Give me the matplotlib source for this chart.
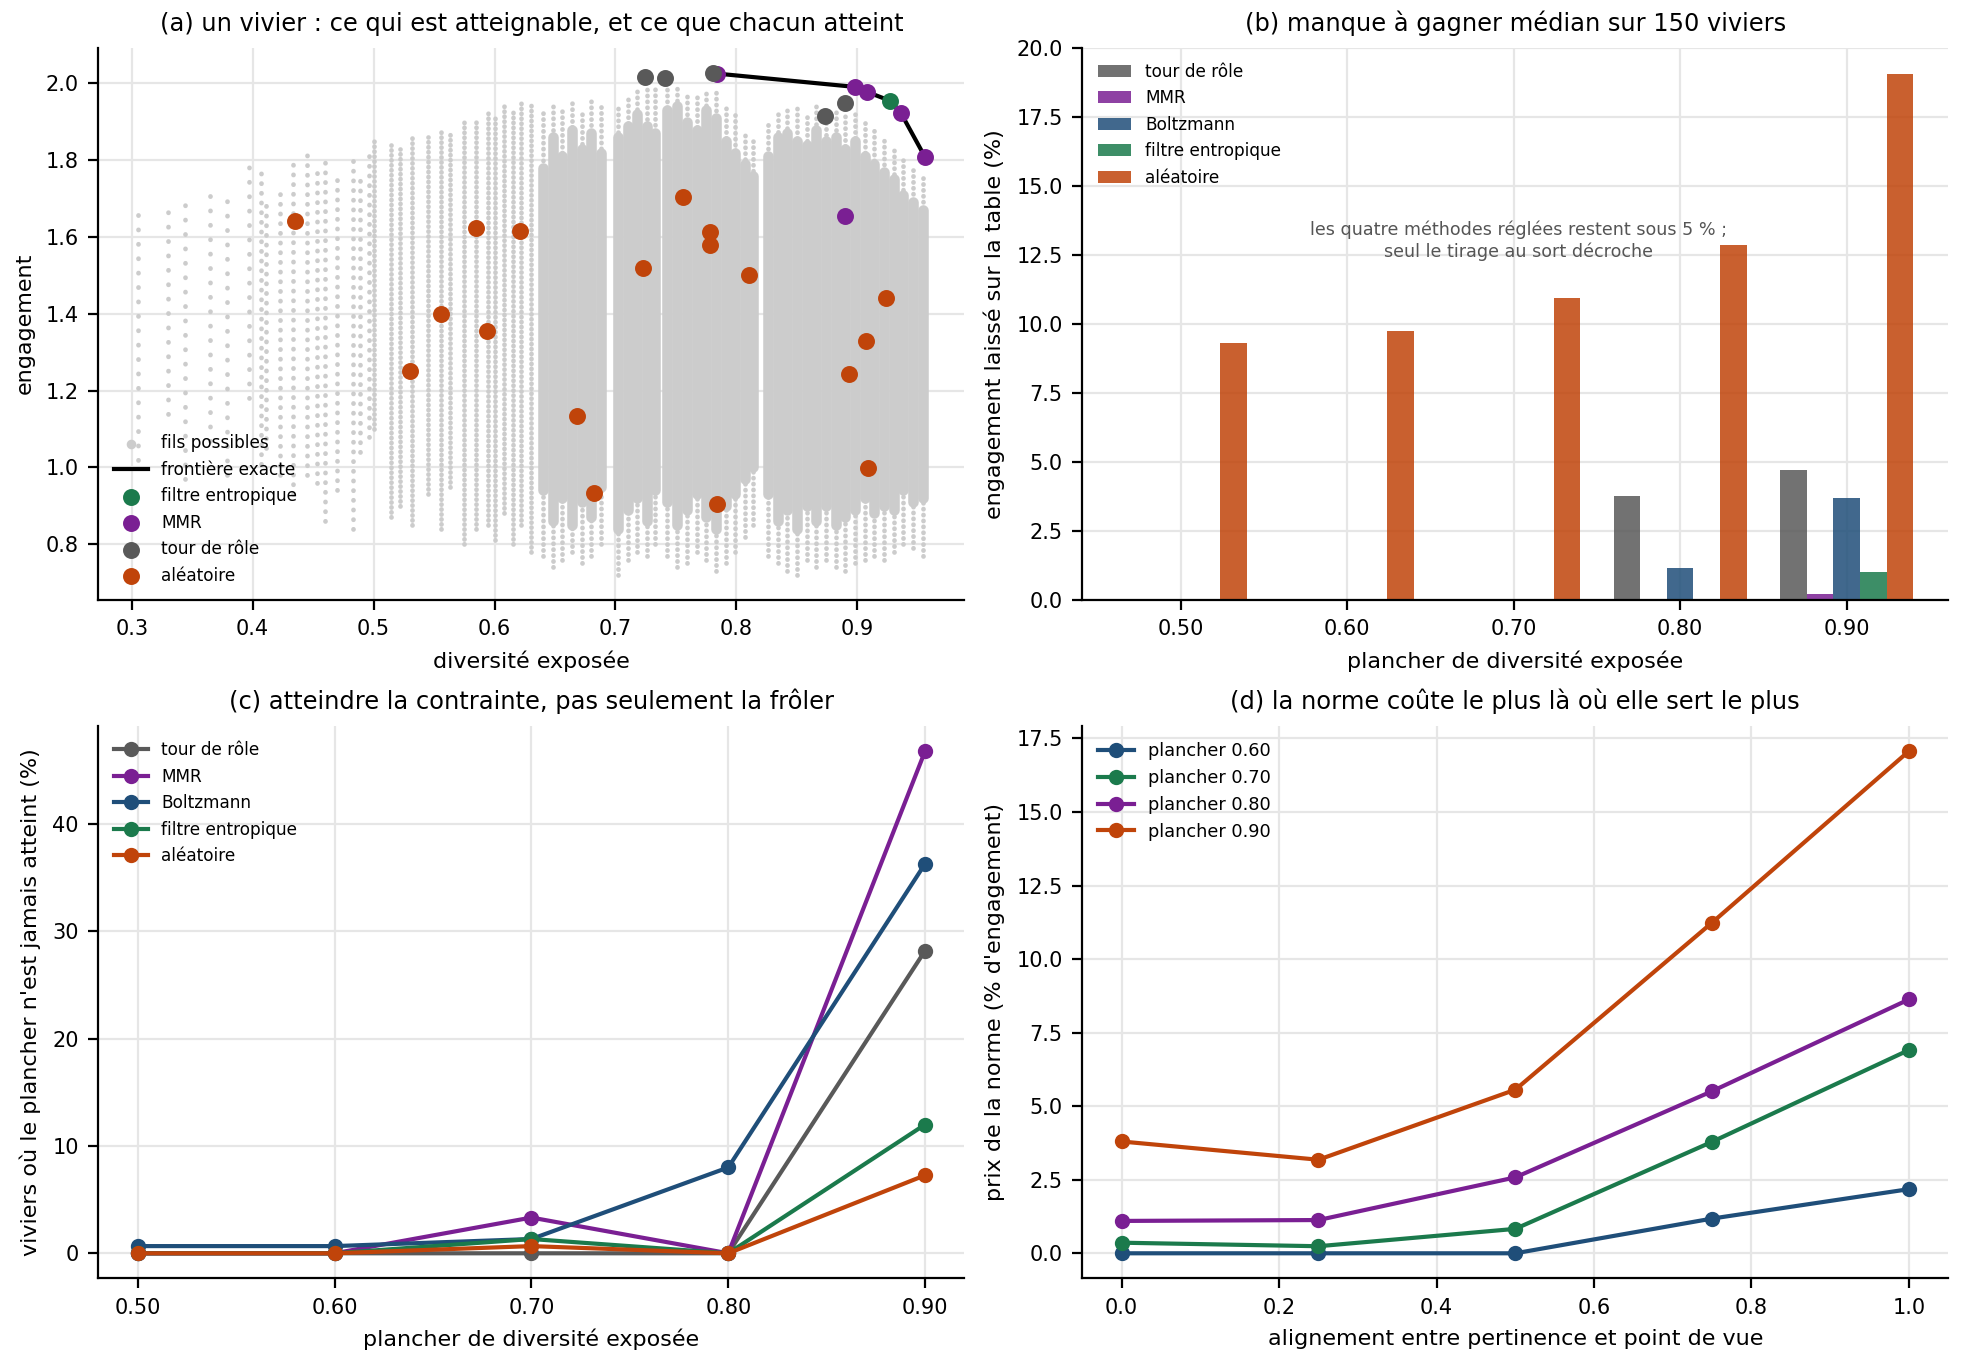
import matplotlib
matplotlib.use("Agg")
import matplotlib.pyplot as plt

# couleurs par méthode
C_TOUR = "#595959"
C_MMR = "#7a1f93"
C_BOLTZ = "#1f4e79"
C_FILTRE = "#1b7a4c"
C_ALEA = "#c0440a"
C_NUAGE = "#cccccc"

# (a) nuage des fils possibles, relevé colonne par colonne
epars_x = [0.305, 0.330, 0.344, 0.365, 0.379, 0.397]
epars_lo = [1.02, 1.14, 0.97, 1.07, 0.98, 1.18]
epars_hi = [1.69, 1.68, 1.69, 1.73, 1.73, 1.80]

moyens_x = [0.407, 0.411, 0.423, 0.433, 0.445, 0.453, 0.460, 0.470, 0.483, 0.489, 0.496]
moyens_lo = [1.01, 1.05, 0.98, 0.93, 0.98, 0.96, 0.86, 0.94, 0.84, 1.04, 1.08]
moyens_hi = [1.77, 1.69, 1.72, 1.80, 1.83, 1.78, 1.81, 1.77, 1.80, 1.77, 1.81]

serres_x = [0.500, 0.514, 0.522, 0.532, 0.545, 0.556, 0.563, 0.575, 0.585, 0.595,
            0.600, 0.608, 0.615, 0.622, 0.630]
serres_lo = [1.10, 0.87, 0.90, 0.85, 0.93, 0.84, 0.95, 0.80, 0.84, 0.85,
             0.81, 0.88, 0.80, 0.85, 0.78]
serres_hi = [1.85, 1.84, 1.83, 1.86, 1.86, 1.88, 1.87, 1.90, 1.91, 1.93,
             1.92, 1.94, 1.93, 1.95, 1.95]

denses_x = [0.640, 0.648, 0.656, 0.664, 0.672, 0.680, 0.688,
            0.702, 0.710, 0.718, 0.726, 0.733,
            0.743, 0.751, 0.759, 0.767, 0.775, 0.783, 0.791, 0.799, 0.807, 0.814,
            0.826, 0.834, 0.842, 0.850, 0.858, 0.866, 0.874, 0.882, 0.890, 0.898,
            0.906, 0.914, 0.922, 0.930, 0.938, 0.946, 0.954]
denses_lo = [0.77, 0.74, 0.76, 0.78, 0.75, 0.77, 0.80,
             0.72, 0.76, 0.78, 0.77, 0.80,
             0.77, 0.74, 0.75, 0.78, 0.76, 0.73, 0.75, 0.78, 0.82, 0.85,
             0.77, 0.75, 0.73, 0.72, 0.76, 0.74, 0.76, 0.74, 0.73, 0.75,
             0.76, 0.77, 0.76, 0.78, 0.80, 0.79, 0.77]
denses_hi = [1.93, 1.95, 1.94, 1.96, 1.93, 1.96, 1.95,
             1.95, 1.97, 1.98, 1.99, 1.99,
             2.00, 2.00, 1.98, 1.97, 1.98, 1.99, 1.94, 1.92, 1.88, 1.86,
             1.90, 1.92, 1.94, 1.94, 1.92, 1.95, 1.93, 1.93, 1.92, 1.93,
             1.90, 1.88, 1.86, 1.84, 1.80, 1.78, 1.76]
coeur_lo = [0.94, 0.86, 0.92, 0.85, 0.91, 0.87, 0.95,
            0.84, 0.89, 0.92, 0.86, 0.94,
            0.91, 0.85, 0.89, 0.93, 0.87, 0.84, 0.90, 0.93, 0.97, 1.00,
            0.93, 0.86, 0.89, 0.84, 0.90, 0.86, 0.90, 0.85, 0.87, 0.89,
            0.92, 0.88, 0.90, 0.89, 0.94, 0.91, 0.92]
coeur_hi = [1.78, 1.86, 1.81, 1.88, 1.83, 1.87, 1.82,
            1.86, 1.89, 1.92, 1.89, 1.87,
            1.93, 1.94, 1.90, 1.88, 1.93, 1.91, 1.85, 1.82, 1.79, 1.76,
            1.81, 1.86, 1.87, 1.85, 1.84, 1.88, 1.85, 1.86, 1.83, 1.85,
            1.81, 1.79, 1.77, 1.75, 1.71, 1.69, 1.67]

frontiere_x = [0.783, 0.898, 0.908, 0.927, 0.936, 0.956]
frontiere_y = [2.026, 1.991, 1.978, 1.955, 1.923, 1.808]

filtre_x = [0.927]
filtre_y = [1.955]
mmr_x = [0.784, 0.898, 0.908, 0.936, 0.956, 0.890]
mmr_y = [2.024, 1.991, 1.978, 1.923, 1.808, 1.654]
tour_x = [0.724, 0.741, 0.781, 0.873, 0.890]
tour_y = [2.018, 2.015, 2.028, 1.914, 1.949]
alea_x = [0.435, 0.530, 0.556, 0.585, 0.594, 0.621, 0.668, 0.682, 0.723,
          0.756, 0.778, 0.778, 0.810, 0.784, 0.924, 0.907, 0.893, 0.909]
alea_y = [1.642, 1.251, 1.400, 1.624, 1.354, 1.616, 1.135, 0.933, 1.519,
          1.705, 1.614, 1.580, 1.502, 0.905, 1.442, 1.328, 1.243, 0.999]

# (b) manque à gagner médian (%)
planchers = ["0.50", "0.60", "0.70", "0.80", "0.90"]
manque = {
    "tour de rôle": [0.0, 0.0, 0.0, 3.75, 4.71],
    "MMR": [0.0, 0.0, 0.0, 0.0, 0.21],
    "Boltzmann": [0.0, 0.0, 0.05, 1.17, 3.70],
    "filtre entropique": [0.0, 0.0, 0.0, 0.0, 1.0],
    "aléatoire": [9.31, 9.74, 10.94, 12.87, 19.04],
}
couleurs = {"tour de rôle": C_TOUR, "MMR": C_MMR, "Boltzmann": C_BOLTZ,
            "filtre entropique": C_FILTRE, "aléatoire": C_ALEA}

# (c) viviers où le plancher n'est jamais atteint (%)
plancher_val = [0.50, 0.60, 0.70, 0.80, 0.90]
rate = {
    "tour de rôle": [0.0, 0.0, 0.0, 0.0, 28.2],
    "MMR": [0.0, 0.0, 3.33, 0.0, 46.8],
    "Boltzmann": [0.67, 0.67, 1.33, 8.0, 36.3],
    "filtre entropique": [0.0, 0.0, 1.33, 0.0, 12.0],
    "aléatoire": [0.0, 0.0, 0.67, 0.0, 7.27],
}

# (d) prix de la norme selon l'alignement
alignement = [0.0, 0.25, 0.5, 0.75, 1.0]
prix = {
    "plancher 0.60": [0.0, 0.0, 0.0, 1.18, 2.18],
    "plancher 0.70": [0.36, 0.24, 0.83, 3.79, 6.91],
    "plancher 0.80": [1.10, 1.13, 2.58, 5.51, 8.63],
    "plancher 0.90": [3.80, 3.18, 5.56, 11.24, 17.07],
}
couleurs_prix = [C_BOLTZ, C_FILTRE, C_MMR, C_ALEA]

plt.rcParams.update({
    "font.size": 8,
    "axes.titlesize": 8.7,
    "axes.labelsize": 8,
    "xtick.labelsize": 7.5,
    "ytick.labelsize": 7.5,
    "legend.fontsize": 6.1,
})

fig, axes = plt.subplots(2, 2, figsize=(9.84, 6.8), dpi=200)
fig.subplots_adjust(left=0.05, right=0.99, top=0.965, bottom=0.06, wspace=0.136, hspace=0.228)
ax_a, ax_b, ax_c, ax_d = axes.ravel()

for ax in axes.ravel():
    ax.spines["top"].set_visible(False)
    ax.spines["right"].set_visible(False)
    ax.grid(True, color="#e6e6e6", linewidth=0.8)
    ax.set_axisbelow(True)

# --- (a) nuage : colonnes de points, plus serrées vers la droite
for xs, los, his, trou in [(epars_x, epars_lo, epars_hi, 3.0),
                           (moyens_x, moyens_lo, moyens_hi, 2.0),
                           (serres_x, serres_lo, serres_hi, 1.0),
                           (denses_x, denses_lo, denses_hi, 1.2)]:
    col = ax_a.vlines(xs, los, his, colors=C_NUAGE, linewidth=1.7,
                      linestyles=[(0, (0.05, trou))])
    col.set_capstyle("round")
coeurs = ax_a.vlines(denses_x, coeur_lo, coeur_hi, colors=C_NUAGE, linewidth=3.8)
coeurs.set_capstyle("round")
ax_a.scatter([], [], s=6, color=C_NUAGE, label="fils possibles")
ax_a.plot(frontiere_x, frontiere_y, color="black", lw=1.5, label="frontière exacte", zorder=3)
ax_a.scatter(filtre_x, filtre_y, s=26, color=C_FILTRE, label="filtre entropique", zorder=4)
ax_a.scatter(mmr_x, mmr_y, s=26, color=C_MMR, label="MMR", zorder=4)
ax_a.scatter(tour_x, tour_y, s=26, color=C_TOUR, label="tour de rôle", zorder=4)
ax_a.scatter(alea_x, alea_y, s=26, color=C_ALEA, label="aléatoire", zorder=4)
ax_a.set_xlabel("diversité exposée")
ax_a.set_ylabel("engagement")
ax_a.set_title("(a) un vivier : ce qui est atteignable, et ce que chacun atteint")
ax_a.legend(loc="lower left", frameon=False)

# --- (b)
largeur = 0.16
pos = list(range(len(planchers)))
for i, (nom, vals) in enumerate(manque.items()):
    decal = (i - 2) * largeur
    ax_b.bar([p + decal for p in pos], vals, width=largeur, color=couleurs[nom],
             alpha=0.85, label=nom)
ax_b.set_xticks(pos)
ax_b.set_xticklabels(planchers)
ax_b.set_xlim(-0.59, 4.61)
ax_b.set_ylim(0, 20)
ax_b.text(2.03, 13.0, "les quatre méthodes réglées restent sous 5 % ;\nseul le tirage au sort décroche",
          ha="center", va="center", fontsize=6.3, color="#555555")
ax_b.set_xlabel("plancher de diversité exposée")
ax_b.set_ylabel("engagement laissé sur la table (%)")
ax_b.set_title("(b) manque à gagner médian sur 150 viviers")
ax_b.legend(loc="upper left", frameon=False)

# --- (c)
for nom, vals in rate.items():
    ax_c.plot(plancher_val, vals, marker="o", ms=4.5, lw=1.5, color=couleurs[nom], label=nom)
ax_c.set_xticks(plancher_val)
ax_c.set_xticklabels(planchers)
ax_c.set_yticks([0, 10, 20, 30, 40])
ax_c.set_xlabel("plancher de diversité exposée")
ax_c.set_ylabel("viviers où le plancher n'est jamais atteint (%)")
ax_c.set_title("(c) atteindre la contrainte, pas seulement la frôler")
ax_c.legend(loc="upper left", frameon=False)

# --- (d)
for (nom, vals), coul in zip(prix.items(), couleurs_prix):
    ax_d.plot(alignement, vals, marker="o", ms=4.5, lw=1.5, color=coul, label=nom)
ax_d.set_xlabel("alignement entre pertinence et point de vue")
ax_d.set_ylabel("prix de la norme (% d'engagement)")
ax_d.set_title("(d) la norme coûte le plus là où elle sert le plus")
ax_d.legend(loc="upper left", frameon=False, fontsize=6.4)

fig.savefig("out.png", dpi=200)
